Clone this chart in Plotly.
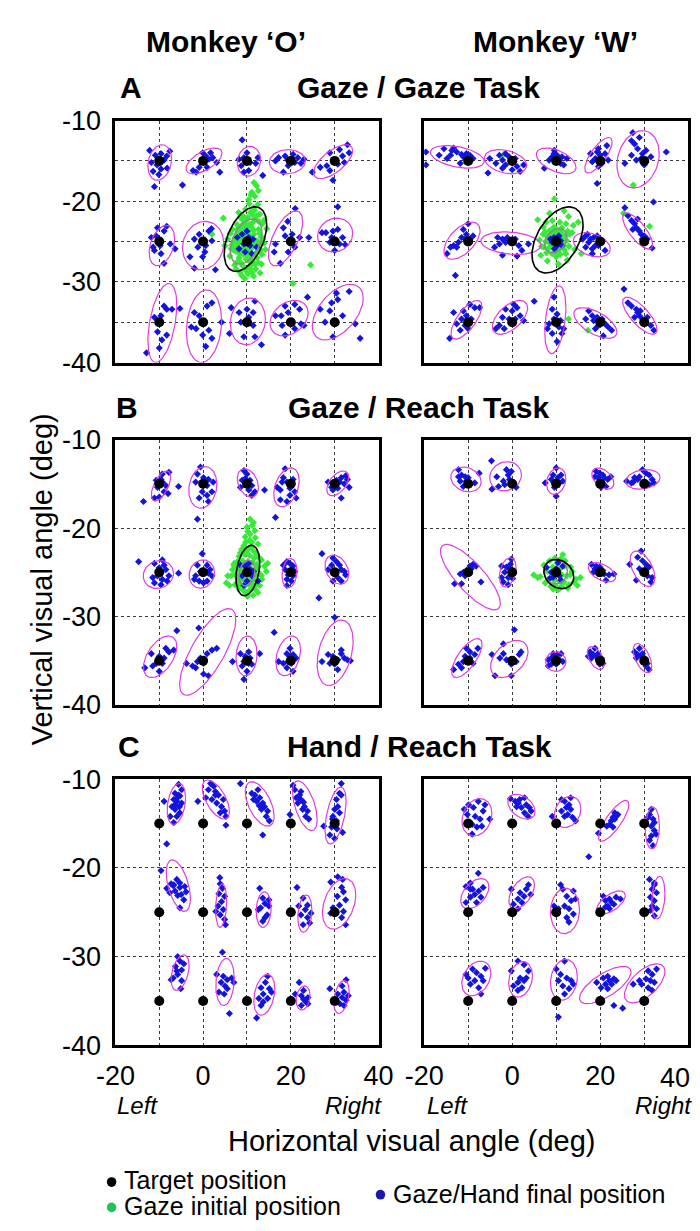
import numpy as np
import plotly.graph_objects as go

W, H = 700, 1231
FONT = "Liberation Sans, Arial, sans-serif"

# ---------------- data ----------------
TARGET_X = [-10, 0, 10, 20, 30]
TARGET_Y = [-15, -25, -35]
CENTER_TARGET = (10, -25)
X_TICKS = [-20, 0, 20, 40]
Y_TICKS = [-10, -20, -30, -40]

# magenta ellipses (cx, cy, sx, sy, tilt) per target, row-major; None = no ellipse
A_O_ELL = [(-9.9, -15.2, 2.7, 2.2, 0.2), (0.2, -15.0, 4.1, 1.6, 0.6), (10.45, -15.05, 2.65, 1.85, 0.1),
           (19.2, -15.1, 4.1, 1.5, 0.05), (29.65, -15.1, 4.45, 2.1, 0.65),
           (-9.4, -25.5, 2.9, 2.5, 0.35), (0.0, -25.5, 4.7, 3.0, 0.1), None,
           (18.8, -24.6, 3.9, 3.4, 0.6), (30.1, -24.2, 4.0, 2.1, 0.1),
           (-9.3, -35.1, 3.3, 4.9, 0.45), (0.2, -35.5, 4.0, 4.5, 0.15), (10.2, -34.9, 4.0, 2.9, 0.1),
           (19.6, -34.5, 4.35, 2.2, 0.3), (30.7, -33.75, 5.8, 3.45, 0.5)]
A_W_ELL = [(-12.46, -14.5, 6.1, 1.4, -0.4), (-1.5, -15.1, 4.8, 1.5, -0.3), (10.0, -15.0, 4.5, 1.6, -0.5),
           (19.6, -14.3, 3.1, 2.2, 0.75), (28.6, -14.8, 4.8, 3.55, 0.2),
           (-11.4, -24.9, 4.1, 2.3, 0.55), (-0.3, -25.2, 6.8, 1.4, -0.2), None,
           (18.1, -25.4, 4.2, 1.5, -0.35), (28.5, -23.7, 3.4, 2.25, -0.75),
           (-10.4, -34.7, 3.5, 2.4, 0.7), (-0.5, -34.4, 4.0, 2.1, 0.55), (9.8, -34.7, 2.4, 4.2, 0.35),
           (18.9, -35.1, 4.9, 1.9, -0.6), (29.0, -34.2, 3.9, 2.3, -0.75)]
B_O_ELL = [(-9.6, -15.24, 2.2, 1.7, 0.6), (-0.07, -15.4, 3.2, 2.35, 0.15), (10.2, -14.9, 2.4, 1.6, -0.3),
           (19.0, -15.4, 2.9, 2.2, 0.35), (30.7, -14.95, 2.5, 1.4, 0.5),
           (-10.2, -25.26, 3.45, 1.57, 0.1), (-0.3, -25.2, 2.9, 1.6, 0.1), None,
           (19.7, -25.1, 1.7, 1.65, 0.15), (30.5, -24.7, 2.7, 1.65, -0.3),
           (-9.8, -34.55, 3.8, 2.35, 0.5), (1.05, -34.0, 6.4, 4.9, 0.75), (9.9, -34.45, 2.4, 2.25, 0.1),
           (19.4, -34.45, 2.8, 2.25, 0.3), (30.1, -34.1, 4.1, 3.7, 0.35)]
B_W_ELL = [(-10.5, -14.5, 3.45, 1.4, -0.2), (-1.5, -14.15, 3.6, 1.65, 0.1), (10.0, -14.7, 2.2, 1.5, 0.2),
           (20.6, -14.4, 2.5, 1.2, -0.45), (29.7, -14.5, 3.9, 1.1, 0.2),
           (-9.5, -25.55, 6.8, 3.7, -0.8), (-1.0, -25.0, 1.9, 1.65, 0.3), None,
           (20.4, -25.0, 3.1, 1.1, -0.5), (29.6, -24.6, 2.8, 2.0, -0.5),
           (-10.3, -34.7, 3.45, 2.2, 0.7), (-0.65, -34.8, 4.25, 2.1, 0.4), (9.9, -35.1, 2.3, 1.1, 0.0),
           (19.0, -34.7, 1.9, 1.3, -0.5), (29.6, -34.7, 2.1, 1.65, -0.55)]
C_O_ELL = [(-6.1, -12.8, 2.1, 2.3, 0.3), (2.9, -12.3, 3.1, 2.2, -0.6), (12.9, -12.8, 3.3, 2.5, -0.55),
           (23.2, -13.0, 2.8, 2.8, -0.55), (30.2, -14.1, 2.4, 3.2, 0.5),
           (-5.65, -22.0, 2.75, 2.9, -0.5), (4.1, -24.25, 1.25, 2.45, 0.2), (13.8, -24.7, 1.7, 2.0, 0.1),
           (23.2, -25.15, 1.6, 2.1, 0.2), (31.0, -24.05, 3.8, 2.85, 0.35),
           (-5.25, -31.8, 2.05, 2.0, 0.4), (5.0, -32.85, 2.1, 2.65, 0.15), (13.95, -34.3, 2.4, 2.3, 0.3),
           (22.8, -34.65, 1.6, 1.35, 0.2), (31.55, -34.55, 1.75, 1.85, 0.35)]
C_W_ELL = [(-8.0, -14.3, 3.4, 2.1, 0.2), (2.1, -13.1, 3.1, 1.4, -0.4), (12.6, -13.7, 3.0, 1.75, 0.2),
           (23.05, -14.7, 3.45, 2.3, 0.8), (31.85, -15.5, 1.6, 2.35, 0.1),
           (-8.5, -22.9, 3.2, 1.7, 0.45), (2.15, -22.8, 2.9, 1.8, 0.5), (12.0, -24.85, 3.3, 2.55, 0.05),
           (22.45, -23.9, 3.25, 1.3, 0.6), (33.2, -23.35, 1.5, 2.4, 0.2),
           (-8.15, -32.45, 3.3, 1.95, 0.3), (1.9, -32.55, 2.7, 2.0, 0.2), (11.75, -32.6, 3.05, 2.3, 0.15),
           (21.15, -33.2, 5.85, 2.1, 0.7), (30.1, -33.0, 4.6, 2.2, 0.6)]

# initial-gaze ellipses (black, grey) around the central fixation target
A_O_INIT_ELL = [(9.65, -24.7, 4.85, 4.0, 0.45), (9.8, -25.0, 3.6, 2.8, 0.4)]
A_W_INIT_ELL = [(10.3, -24.8, 5.8, 4.1, 0.45), (9.9, -24.9, 2.5, 1.5, 0.3)]
B_O_INIT_ELL = [(10.2, -24.8, 2.7, 2.85, 0.3), (10.0, -25.1, 1.8, 1.45, 0.2)]
B_W_INIT_ELL = [(10.6, -25.2, 3.4, 1.65, -0.2), (9.9, -24.9, 2.65, 1.4, 0.0)]

# final positions: offsets (deg) from each target, row-major
A_O_FINAL = [
    [(-2.2, 1.3), (-0.9, 0.7), (0.4, 0.9), (1.7, 0.6), (2.4, 1.2), (1.1, 0.1), (-0.5, -0.5), (0.4, -1.0), (1.8, -0.9), (-1.4, -1.3), (-0.1, -1.7), (-1.1, -3.2), (-1.8, -0.2)],
    [(-1.6, -1.4), (-0.9, -0.8), (0.6, 0.6), (1.3, 0.2), (2.2, 0.4), (3.8, -1.4), (-0.1, 1.0), (0.9, -0.8), (-4.7, -3.0), (3.1, -0.2), (-2.3, -1.2), (1.7, 1.0)],
    [(-1.1, 2.6), (0, 1.0), (-0.7, 0.4), (0.7, -0.2), (2.0, -0.3), (-1.3, -0.6), (0.4, -1.2), (3.6, -1.8), (-0.7, -1.4), (2.5, 0.4), (-1.8, 0.2)],
    [(-2.8, 0.4), (-1.3, 0.6), (0.5, 0.8), (1.6, 0.4), (2.3, -0.3), (-0.6, -0.6), (0.9, -0.2), (-1.7, -1.4), (3.0, 0.2), (-3.5, 0), (-0.7, 0.1)],
    [(-1.1, 1.0), (1.1, 1.4), (2.9, 2.0), (1.8, 0.6), (0.7, -0.4), (-1.8, -0.6), (-3.3, -0.8), (-5.1, -1.4), (2.2, -0.2), (-0.4, -2.4), (3.3, 1.0), (-1.1, -1.2)],
    [(1.7, 1.9), (1.1, 1.3), (-0.7, 0.7), (-1.8, 0.5), (0.2, -0.5), (-1.1, -1.1), (0.4, -1.5), (1.1, -2.7), (2.5, -0.3), (3.6, -0.9), (-1.4, -0.7), (-0.4, 1.7)],
    [(-2.0, 0.3), (-0.9, 0.9), (1.3, 1.3), (1.9, 1.6), (0.6, -0.5), (-1.2, -0.7), (0.4, -1.3), (2.8, -3.5), (-2.0, -3.3), (-3.0, -1.9), (2.0, 0.1), (-0.1, -1.9)],
    [(-1.1, 0.9), (0.4, 0.5), (-0.7, -0.3), (0.7, -0.5), (-1.8, -0.9), (1.4, 0.3), (-0.4, -1.3), (-2.2, 0.5), (2.2, -0.7), (0, 1.3), (1.1, -1.5)],
    [(1.0, 4.1), (-0.7, 2.5), (-1.7, 1.7), (-1.3, 0.7), (0.3, 0.9), (0.9, -0.7), (-3.5, -0.3), (-2.4, -2.7), (-0.6, -1.3), (2.0, 0.5), (4.1, 0.5), (-3.8, -1.3)],
    [(-2.0, 1.1), (-0.4, 1.3), (0.7, 1.5), (1.8, 0.5), (-0.7, 0.5), (1.1, -0.3), (2.4, -0.4), (0, -1.1), (-1.1, -0.1), (0.7, 4.3), (-2.9, 1.1)],
    [(1.1, 2.0), (1.7, 1.6), (0.4, 0.8), (-1.1, 0.6), (2.9, 1.6), (4.7, 1.7), (1.7, -1.6), (0.6, -2.2), (0, -3.2), (-2.9, -3.8), (-0.4, -1.2)],
    [(-2.0, 1.2), (-0.9, 0.8), (2.0, 2.4), (0.9, 2.0), (-1.6, -0.8), (-0.1, -1.6), (2.0, -2.0), (0.6, -3.0), (4.2, 0), (-2.7, -0.6), (1.3, -1.0)],
    [(0, 1.6), (-1.8, 1.2), (1.8, 2.6), (1.4, 1.2), (-1.4, 0), (1.4, -0.4), (-0.7, -1.8), (1.8, -1.8), (3.3, -2.8), (-3.6, 1.8), (-4.0, -1.4), (0.4, 0.6)],
    [(-1.3, 2.0), (0.9, 2.2), (2.0, 1.6), (-0.6, 1.2), (-2.2, 0.8), (-3.5, 0.8), (-2.0, -0.4), (2.3, -0.2), (3.0, -0.4), (-1.3, -1.6), (0.9, -0.8), (3.8, 3.1)],
    [(-3.3, 1.6), (-1.1, 1.4), (-0.7, 2.4), (0.4, 3.6), (0.7, 2.8), (3.3, 3.8), (1.8, 0.8), (4.7, -0.2), (-0.4, -1.8), (5.8, -2.0), (-2.2, 0)],
]
A_W_FINAL = [
    [(-5.5, 1.5), (-3.3, 1.6), (-4.0, 0.7), (-2.6, 1.1), (-1.1, 0.5), (0.4, 0.7), (1.1, 0.3), (-4.8, 0.3), (-1.8, -0.3), (-6.6, 0.7), (-9.6, 1.1), (-9.6, -0.5), (-0.4, 0.9), (-3.7, 1.3), (-1.5, 0.8)],
    [(-2.9, 0.7), (-2.2, 0.1), (-3.7, -0.3), (-1.5, -0.5), (-0.7, 0.5), (0.7, 0.3), (1.1, -0.7), (1.8, -1.3), (2.6, -0.5), (-5.1, 0.3), (-5.5, -1.5), (-1.5, 0.9), (-2.2, -0.9), (0, -1.1)],
    [(-0.5, 0.9), (-0.9, 0.5), (0.2, 0.7), (0.6, 0.1), (-1.6, 0.1), (1.0, -0.3), (1.7, -0.5), (-2.7, -0.9), (2.4, 0.3), (-0.4, 1.3), (1.3, 0.5)],
    [(-0.7, 1.1), (0, 0.7), (-1.1, 0.3), (0.4, -0.3), (1.1, 0.9), (-1.8, -0.1), (-2.2, 0.9), (-0.4, -0.7), (1.5, 1.9), (-0.7, -2.8), (1.8, 0.1), (-0.4, 1.5)],
    [(-2.9, 2.5), (-2.2, 2.1), (-1.5, 1.5), (-0.4, 0.9), (0.4, 1.3), (-0.7, 0.3), (0, -0.5), (-2.9, 0.7), (-4.4, -0.3), (5.0, 1.1), (-1.1, 2.9), (-2.6, 3.5), (1.5, 0.5), (-1.8, 0.1)],
    [(-1.1, 1.5), (-0.4, 0.9), (-1.5, 0.5), (-0.7, 0.3), (-2.2, -0.1), (-3.3, -0.5), (-2.6, -0.7), (-4.8, -1.5), (0.4, 0.3), (1.1, 0.7), (0, 2.2), (-2.9, -4.2), (-4.0, -0.7)],
    [(-2.2, 0.3), (-1.5, -0.1), (-0.7, 0.1), (-2.9, -0.3), (-4.0, -0.7), (0.7, 0.3), (1.5, -0.5), (2.2, -1.1), (-2.2, -1.7), (1.1, -1.8), (3.7, -0.3), (-1.1, 0.5), (-3.3, 0.5)],
    [(0, 0.3), (-0.9, -0.1), (1.0, 0.1), (0.2, -0.5), (-0.5, 0.5), (0.6, 0.7), (-1.3, 0.3), (1.3, -0.5), (-0.4, -0.9)],
    [(-3.3, 0.7), (-2.2, 0.3), (-1.5, 0.5), (-2.6, -0.1), (-1.1, -0.5), (-1.8, -0.9), (-3.3, -0.7), (-4.0, 0.3), (-0.4, -0.5), (1.1, -1.1), (-1.8, -1.5), (-0.7, 0.7), (-2.9, 0.9)],
    [(-4.4, 4.2), (-3.7, 3.2), (-2.9, 2.6), (-2.2, 2.2), (-1.8, 1.7), (-2.6, 1.5), (-1.1, 1.3), (-0.7, 0.9), (0, 0.7), (0.7, 0.3), (-0.4, 0.3), (1.8, -0.8), (-1.5, 2.8), (2.1, 4.9)],
    [(-1.1, 1.4), (0.4, 2.2), (1.5, 1.8), (-0.4, 0.8), (-1.5, 0.4), (0.7, 0.4), (-0.7, -0.4), (-1.8, -1.0), (-3.3, 1.2), (-2.6, -0.2), (-4.2, -2.0), (2.6, 1.8), (0, -0.8)],
    [(-1.5, 1.6), (0, 1.4), (1.1, 1.8), (-2.2, 0.6), (-0.7, 0.4), (0.7, 0.4), (-2.9, -0.4), (-1.8, -0.8), (1.8, 0.8), (-3.7, -0.8), (5.0, 2.6), (0.4, 2.2), (2.6, 0.2)],
    [(-0.9, 1.6), (0.2, 1.0), (-0.5, 0.4), (1.0, 0.2), (-1.6, -0.2), (0.6, -0.6), (1.7, -0.8), (-0.9, -1.4), (0.2, -2.4), (-2.0, -0.8), (-0.5, 3.1), (1.3, -1.4)],
    [(-2.6, 1.4), (-1.8, 0.8), (-0.7, 0.6), (0.4, 0.4), (1.1, -0.2), (-0.4, -0.4), (1.8, -0.6), (2.6, -1.0), (0.7, -1.7), (-1.5, 0.2), (-3.3, 0.4), (-1.1, -0.8)],
    [(-4.6, 4.1), (-3.7, 2.4), (-2.9, 2.0), (-1.8, 1.6), (-1.5, 1.2), (-1.1, 0.8), (-0.4, 0.4), (0.4, 0), (1.5, -0.4), (2.2, -1.0), (-2.2, 0.6), (0.7, 0.6), (-0.9, 1.4)],
]
B_O_FINAL = [
    [(-0.7, 0.4), (0.4, 0.5), (0.7, 0.2), (-0.4, -0.4), (1.5, -0.2), (0.7, 1.1), (2.2, 1.3), (1.1, -0.9), (0, -1.5), (-1.1, -1.6), (4.4, -0.3), (-3.6, -2.0), (2.0, -1.1)],
    [(-0.6, 1.9), (-1.3, 1.1), (0.1, 0.7), (1.2, 0.5), (-1.7, 0.2), (0.9, -0.2), (2.3, 0.2), (-0.2, -0.9), (-0.9, -1.6), (0.9, -1.3), (1.2, -2.0), (-1.3, -4.0), (2.0, -0.9)],
    [(-0.7, 1.5), (0, 1.1), (0.7, 0.4), (-1.1, 0.4), (1.1, -0.2), (1.8, -0.9), (0.4, -0.7), (1.1, -1.3), (4.0, -0.7), (-1.5, -0.4), (-0.4, 0.6)],
    [(-1.3, 1.7), (-1.7, 0.7), (-3.1, -0.4), (-2.4, -0.7), (-0.9, 0.2), (-0.2, -0.5), (0.5, 0.5), (-0.2, -1.3), (-2.4, -1.8), (-0.9, -2.0), (1.2, -1.6), (-3.5, -3.8), (-2.0, 0.2), (0.9, -0.9)],
    [(-1.5, 0.2), (-0.7, -0.4), (0.4, 0.4), (1.5, 0.7), (2.5, 0.9), (2.9, 0.5), (2.2, 0), (0.7, -0.5), (1.5, -1.6), (3.3, -0.4), (-0.4, -0.7), (1.1, 0.2)],
    [(-1.1, 1.0), (0, 0.5), (1.1, 0.8), (1.5, 0.3), (-0.4, -0.4), (-1.5, -0.6), (0.7, -0.8), (1.8, -1.0), (0.4, -1.4), (-1.1, -1.2), (4.4, -0.1), (-4.7, 1.2), (0.7, 1.4), (2.2, -0.4)],
    [(-0.2, 2.1), (-1.3, 0.8), (0.9, 0.8), (1.6, 0.3), (-0.6, 0.1), (-1.7, -0.4), (-0.9, -1.0), (0.9, -1.0), (2.0, -0.4), (0.1, -1.2), (-2.0, -0.8), (1.2, -0.1)],
    [(-1.5, 0.8), (-0.4, 0.7), (0.7, 0.3), (1.1, -0.4), (0, -1.0), (-1.1, -0.4), (0.4, 1.0), (1.5, 0.1), (-0.7, -1.5), (2.5, -1.0)],
    [(-0.9, 1.2), (-0.2, 1.0), (0.5, 0.7), (-1.3, 0.3), (-0.6, -0.3), (0.5, -0.4), (-0.9, -0.8), (0.1, -1.0), (0.9, 0.1), (-0.9, -1.5), (-1.7, 0.8)],
    [(-0.4, 1.6), (0.4, 1.2), (1.1, 0.8), (-0.7, 0.8), (1.5, 0.3), (2.2, 0.1), (2.5, -0.3), (0.7, -0.6), (-0.4, -1.0), (-1.5, 0.3), (-2.9, 2.1), (-3.6, -2.9), (1.5, -1.0)],
    [(-1.8, 0.8), (0, 0.5), (1.1, 0.3), (2.2, 1.0), (3.3, 1.2), (-0.7, -0.3), (0.7, -0.3), (-3.3, -0.8), (-1.5, -0.6), (0, -1.2), (-0.4, -0.1), (1.5, 1.4), (4.0, 3.4)],
    [(-1.3, -0.1), (-0.6, 0.1), (0.1, -0.3), (0.9, 0.8), (2.0, 1.2), (-2.4, -0.6), (-1.7, -0.8), (0.1, -1.5), (1.2, -1.7), (-0.6, 0.3), (3.1, 1.4), (-1.0, 3.7), (-3.8, -0.3)],
    [(-1.5, 0.8), (-0.4, 0.5), (0.7, 0.3), (-0.7, -0.1), (0.4, -0.3), (1.1, -0.4), (-1.1, -0.6), (0, -1.2), (-0.7, -2.1), (2.9, 0.8), (-3.3, -0.1), (0.4, 1.0), (6.2, 3.2)],
    [(-0.9, 0.8), (-0.2, 0.5), (0.5, 0.7), (-0.6, -0.1), (0.1, -0.3), (-1.7, -0.3), (-0.9, -0.8), (0.5, -1.2), (-2.8, -0.1), (-0.2, 1.4), (1.2, 0.3)],
    [(-1.5, 0.7), (-0.4, 0.5), (0.7, 0.1), (1.5, 0.8), (2.2, 0.3), (2.9, 0.1), (3.6, 0), (-1.1, -0.3), (0, -0.4), (0.7, -1.0), (1.5, 1.2), (0, 4.9), (-2.9, -0.1)],
]
B_W_FINAL = [
    [(-2.2, 1.6), (-1.5, 1.0), (-0.7, 0.8), (0, 0.7), (-1.8, 0.3), (0.4, -0.1), (1.5, 0.1), (2.5, 1.2), (-1.1, -0.3), (5.3, 2.6), (-2.2, 0.8), (-0.4, 0.3)],
    [(-3.5, 0.8), (-1.3, 1.6), (-0.9, 1.0), (-0.2, 1.4), (-2.0, 0.3), (-3.1, -0.3), (-0.6, 0.5), (0.5, -0.1), (0.9, -0.4), (-4.6, -0.6), (-1.7, -0.1)],
    [(0, 1.8), (-0.7, 1.0), (0.4, 0.7), (1.1, 1.0), (-1.1, 0.5), (0.7, 0.1), (1.5, 0.3), (-2.5, 0.1), (-0.4, -0.4), (0, -1.4), (-0.6, 0.2)],
    [(-0.9, 1.4), (-0.1, 1.2), (0.6, 1.0), (-0.5, 0.7), (0.9, 0.7), (1.7, 0.5), (2.4, 0.8), (0.6, 0.1), (1.3, -0.3), (0.2, -0.4), (-1.2, 0.8)],
    [(-4.0, 0.3), (-2.9, 0.1), (-2.2, 0.7), (-1.1, 0.8), (-0.4, 1.6), (0.4, 1.2), (1.1, 1.0), (1.8, 0.5), (2.2, 0.1), (1.1, -0.1), (-1.5, 0.5), (-2.5, 0.2)],
    [(-1.8, -0.2), (-1.1, 0), (-0.4, 0.2), (0.4, 0.7), (1.1, 0.9), (-0.7, -0.4), (1.8, 0.7), (-1.5, -1.3), (-3.1, -1.3), (2.9, -1.1), (0.7, 0.4)],
    [(-2.4, 0.7), (-1.3, 0.6), (-0.6, 0.4), (-0.2, 1.5), (-1.7, 0), (-0.9, -0.6), (-2.0, -1.1), (-0.9, -1.4), (0.1, -0.7), (-2.4, -0.6), (-0.4, 0.9)],
    [(-2.2, 0.55), (-1.1, 0), (0, 0.4), (0.7, -0.4), (-0.7, -0.55), (1.5, 0.7), (0.4, 1.1), (-1.5, -0.7), (1.1, -0.9)],
    [(-2.0, 0.9), (-0.9, 0.7), (-0.1, 0.6), (0.6, 0.2), (-1.2, 0.4), (0.9, -0.2), (2.0, -0.3), (3.1, -0.2), (1.3, -0.9), (-0.5, -0.2), (-1.6, 0)],
    [(-0.7, 2.4), (-1.5, 1.7), (-0.4, 1.3), (0.4, 0.9), (1.1, 0.6), (-1.1, 0.4), (0, -0.2), (0.7, -0.4), (1.5, -1.1), (-1.8, -0.9), (-3.3, 0.9), (1.8, -0.6)],
    [(-3.3, -1.0), (-2.2, -0.4), (-1.1, -0.1), (-0.7, 0.5), (0.4, 0.3), (1.1, -0.3), (-1.5, -0.8), (0.4, 1.0), (1.5, 0.7), (2.2, 1.4), (-0.4, 1.4)],
    [(-4.6, 0.7), (-2.8, 0.3), (-2.0, 0.8), (-1.3, 0.1), (-0.2, -0.4), (0.9, -0.1), (1.6, 0.7), (2.0, 1.0), (-3.9, -1.7), (-0.2, -1.7), (0.5, 3.5), (-2.0, 1.9)],
    [(-1.8, 0.1), (-1.1, 0.3), (-0.4, 0.5), (0.4, 0.7), (0.7, 0.1), (1.5, -0.1), (0, -0.4), (-1.1, -0.4), (-1.8, -0.6), (1.1, 0.8), (-0.7, 0.8)],
    [(-2.3, 1.0), (-1.6, 0.7), (-0.9, 0.5), (-0.5, 0.1), (0.2, 0.3), (-1.2, 1.4), (-2.0, 0.3), (0.6, -0.3), (-0.1, -0.4), (-0.5, 0.8), (-2.7, 0.5)],
    [(-2.2, 1.0), (-1.5, 0.7), (-0.7, 0.5), (-0.4, 0.8), (0, 0.3), (0.7, -0.3), (0.4, -0.6), (1.1, -1.0), (-1.1, 1.4), (-1.8, 0.3)],
]
C_O_FINAL = [
    [(4.4, 4.4), (3.6, 3.4), (4.4, 3.2), (4.7, 3.1), (3.3, 2.7), (4.0, 2.5), (5.1, 2.3), (2.9, 1.9), (3.6, 1.6), (4.7, 1.2), (4.0, 0.8), (3.3, 0.1), (1.1, 2.5), (1.7, -2.3), (2.5, 0.8), (5.1, 3.8), (3.6, 2.1), (4.6, 1.9), (4.1, 2.9)],
    [(1.7, 4.5), (2.4, 4.2), (2.8, 3.6), (3.5, 3.2), (0.6, 2.9), (2.0, 2.7), (3.1, 2.3), (4.2, 1.9), (4.9, 1.4), (5.2, 0.8), (3.9, 1.2), (-1.2, 2.5), (5.2, -0.2), (2.8, 3.2), (1.2, 3.8), (4.6, 2.7)],
    [(-1.5, 4.5), (2.5, 3.8), (1.8, 3.2), (2.9, 2.9), (2.2, 2.5), (3.6, 2.3), (4.0, 1.9), (3.3, 1.6), (4.7, 1.4), (4.4, 0.8), (5.1, 0.3), (3.6, -1.3), (1.5, 2.7), (2.8, 2.0), (1.1, 3.4)],
    [(0.5, 4.3), (0.9, 3.8), (2.0, 3.2), (2.3, 2.7), (1.6, 2.3), (3.1, 1.9), (2.7, 1.6), (3.8, 1.4), (3.4, 0.8), (4.1, 0.5), (-0.2, 1.0), (1.2, 2.9), (2.3, 3.6), (2.9, 2.4)],
    [(1.5, 4.5), (1.1, 3.4), (0.4, 2.7), (0.7, 1.9), (0, 1.6), (1.1, 1.2), (-0.4, 0.8), (0.4, 0.3), (-0.7, -0.4), (-1.1, -1.3), (1.8, -1.0), (-2.5, -0.3), (1.5, 3.2), (-0.5, 0.5), (0.5, -0.6), (0, -1.7)],
    [(1.7, 2.7), (3.2, 3.0), (4.7, 2.8), (6.1, 2.3), (5.6, 1.4), (4.2, 1.9), (4.7, 0.5), (2.7, 3.2), (4.0, 3.7), (4.7, 3.3), (3.3, 3.1), (5.8, 2.9), (0.4, 4.7), (3.6, 2.4), (5.0, 2.0), (2.4, 2.2)],
    [(3.9, 3.2), (4.4, 2.7), (3.6, 2.1), (4.9, 1.8), (4.2, 1.2), (3.4, 0.7), (4.6, 0.3), (3.9, -0.3), (4.9, -0.8), (5.1, -1.4), (2.9, 0.1), (3.8, 3.9)],
    [(2.9, 2.7), (3.6, 1.6), (4.1, 1.0), (5.0, 0.7), (3.1, 0.5), (4.6, -0.3), (3.6, -1.0), (2.6, 0.3), (5.0, 1.4), (4.1, -0.6)],
    [(1.4, 2.8), (2.8, 1.6), (3.8, 0.8), (3.3, 0.3), (2.3, -0.3), (3.8, -0.6), (4.3, -1.2), (2.8, -1.4), (4.6, -0.1), (1.8, 0.7)],
    [(-0.9, 3.4), (1.6, 2.8), (2.0, 2.3), (0.6, 1.8), (2.5, 1.4), (1.1, 0.8), (-0.4, 0.5), (2.0, 0.1), (-0.9, -0.1), (1.6, -0.6), (2.5, -1.4), (0.1, -0.1), (0.7, 4.0), (1.8, 3.7)],
    [(4.2, 5.0), (4.7, 4.5), (3.7, 3.9), (5.1, 3.5), (4.2, 3.0), (3.2, 2.6), (5.1, 2.3), (2.7, 2.4), (4.9, 1.4), (5.6, 4.2), (4.0, 3.4)],
    [(4.4, 5.5), (3.1, 3.0), (4.6, 2.8), (5.5, 2.4), (6.5, 2.6), (4.1, 2.1), (5.0, 1.7), (3.6, 1.0), (5.5, 1.4), (7.0, 2.1), (6.0, -1.4), (4.8, 0.8)],
    [(4.7, 2.8), (4.2, 2.1), (3.2, 1.5), (5.1, 1.4), (3.7, 0.8), (2.7, 0.3), (4.7, 0.3), (3.2, -0.5), (2.2, -1.9), (5.6, 1.0), (3.7, -0.1)],
    [(1.9, 2.1), (2.9, 1.2), (2.4, 0.6), (3.9, 0.4), (3.4, -0.1), (2.4, -0.5), (1.0, 0.8), (3.9, -0.3), (2.9, 0.2)],
    [(2.6, 2.4), (1.7, 1.7), (2.1, 1.0), (0.7, 0.8), (1.7, 0.4), (2.6, 0.1), (1.2, -0.3), (2.1, -0.5), (-1.1, 1.4), (3.1, 0.6), (0.5, -0.1)],
]
C_W_FINAL = [
    [(-0.9, 1.6), (0.1, 2.1), (1.2, 1.8), (2.3, 2.5), (3.4, 1.4), (1.6, 0.8), (2.7, 0.5), (0.9, -0.1), (3.1, -0.3), (2.0, -0.4), (0.9, -1.2), (4.9, 0.5), (-0.2, 1.0), (3.8, 2.1)],
    [(-0.4, 2.8), (0.7, 2.5), (1.7, 2.7), (2.8, 2.9), (1.0, 1.9), (2.1, 1.8), (3.2, 2.1), (3.9, 1.8), (2.8, 1.2), (3.6, 0.8), (4.3, 1.4), (1.4, 2.3)],
    [(1.2, 2.7), (1.9, 2.5), (2.9, 2.1), (2.3, 1.8), (3.3, 1.6), (1.2, 1.4), (2.6, 1.0), (3.7, 0.7), (4.4, 0.3), (-0.9, 0.8), (1.9, 0.8), (3.3, 2.9)],
    [(3.3, 1.2), (3.6, 0.8), (2.9, 0.7), (2.5, 0.3), (2.2, -0.1), (3.3, 0.5), (4.0, 1.0), (1.5, -0.3), (-0.4, -1.1), (2.9, -0.4), (-2.6, -3.75)],
    [(1.6, 1.6), (1.2, 1.0), (2.0, 0.5), (2.3, 0.1), (1.6, -0.3), (2.3, -0.8), (1.6, -1.4), (1.2, -1.9), (2.0, -2.5), (2.7, -1.2), (0.9, 0.7)],
    [(-0.5, 2.9), (1.0, 2.6), (1.5, 2.0), (2.4, 2.4), (2.9, 1.7), (0.5, 1.7), (3.4, 2.8), (1.9, 1.1), (-0.5, 1.1), (0.5, 3.3), (2.3, 4.4), (0.5, 2.6)],
    [(-0.2, 2.6), (1.8, 2.2), (2.7, 1.8), (1.3, 1.5), (3.2, 2.6), (3.7, 3.1), (0.3, 0.9), (2.2, 1.1), (4.2, 2.0), (1.3, 0.4)],
    [(1.0, 3.1), (1.5, 2.6), (2.4, 1.8), (3.9, 2.4), (3.4, 1.3), (1.9, 0.7), (2.9, 0.4), (3.9, -0.2), (2.4, -0.6), (2.9, -1.1), (-0.5, 0.7), (0.5, 0.4), (4.4, 1.5)],
    [(1.2, 1.3), (2.1, 1.5), (2.6, 1.1), (1.7, 0.7), (3.6, 1.7), (0.7, 1.8), (3.1, 0.9), (4.6, 1.5), (2.1, 0.4), (1.2, 0.6)],
    [(2.3, 3.3), (1.8, 2.6), (2.8, 2.2), (1.4, 1.7), (2.3, 1.3), (1.8, 0.7), (2.8, 0.4), (2.3, -0.4), (1.4, 0.2), (1.2, 3.7), (2.3, 3.1)],
    [(1.0, 3.6), (1.9, 3.2), (2.9, 2.8), (0, 2.6), (1.5, 2.3), (3.4, 2.3), (0.5, 1.9), (2.4, 1.5), (3.9, 3.7), (2.9, 0.8), (-0.5, 3.0)],
    [(1.3, 4.5), (2.7, 4.1), (-0.2, 3.4), (1.8, 2.6), (2.7, 2.3), (1.3, 2.1), (3.7, 3.4), (0.3, 1.7), (2.2, 1.5), (3.2, 2.6), (1.3, 1.2)],
    [(1.9, 4.5), (0, 3.6), (1.0, 3.0), (2.4, 2.6), (3.4, 2.3), (1.5, 1.7), (2.9, 1.4), (0.5, 2.3), (3.9, 1.9), (1.9, 0.8), (0.5, -1.8)],
    [(0.7, 2.6), (1.7, 2.8), (2.1, 2.3), (3.1, 2.5), (1.2, 1.9), (2.6, 1.9), (0.2, 1.5), (1.7, 1.4), (3.6, 2.3), (3.1, -0.5), (5.1, -0.8), (-0.8, 2.1)],
    [(0.9, 3.4), (1.8, 3.0), (0.4, 2.5), (1.4, 2.3), (2.3, 2.1), (-0.6, 1.9), (0.9, 1.5), (-1.1, 2.3), (2.8, 3.6), (1.8, 1.2), (-2.5, 1.9)],
]

# initial gaze positions: offsets (deg) from the central fixation target
A_O_INITIAL = [(1.6, 7.3), (2.2, 6.9), (1.1, 6.1), (1.8, 5.6), (0.4, 5.2), (2.5, 4.6), (1.5, 4.2), (-0.3, 4.0), (0.8, 3.6), (2.9, 3.4),
               (-1.5, 3.0), (0.2, 3.0), (1.9, 2.8), (3.5, 2.2), (-2.3, 2.1), (-0.8, 2.2), (1.0, 1.8), (2.6, 1.5), (-3.8, 1.0), (-1.6, 1.2),
               (0.3, 1.2), (1.6, 0.9), (3.2, 0.6), (4.5, 1.6), (-2.7, 0.4), (-0.9, 0.5), (0.9, 0.3), (2.3, 0.1), (3.9, -0.2), (-5.0, -0.5),
               (-3.4, -0.4), (-1.9, -0.2), (-0.5, -0.3), (1.3, -0.6), (2.8, -0.8), (-2.6, -1.2), (-1.1, -1.0), (0.4, -1.3), (1.9, -1.5), (3.4, -1.6),
               (-3.9, -1.8), (-1.8, -2.0), (-0.2, -2.2), (1.2, -2.4), (2.6, -2.6), (-2.8, -2.9), (-1.0, -3.0), (0.6, -3.3), (2.0, -3.4), (-1.6, -3.8),
               (0.2, -4.0), (1.5, -4.3), (-0.5, -4.6), (3.0, -3.9), (14.5, -2.9), (10.5, -5.2), (-8.0, 0.9), (-5.4, 2.9),
               (-0.6, 1.6), (0.6, 0.7), (-1.3, 0.0), (0.0, -0.8), (1.0, -1.8), (-0.8, -1.6), (2.1, -0.3), (-2.2, 0.9), (1.4, 2.4), (-0.2, 2.6),
               (2.3, -2.0), (-2.0, -2.4), (0.9, -2.9), (-0.4, -3.5), (3.6, 0.3), (-3.1, -1.0), (1.7, 3.9), (0.5, 4.7), (-1.2, -4.2), (2.7, 2.5),
               (-4.4, 0.3), (4.2, -1.0), (3.3, -2.8), (0.9, 5.8), (2.6, 6.3), (-1.9, 3.6), (4.0, 2.7), (-2.5, -3.4), (1.1, -3.8), (0.1, 1.9),
               (-0.3, 0.4), (0.5, -0.2), (-1.6, 0.6), (1.2, 0.4), (-0.7, -0.6), (0.8, -1.0), (-2.3, -0.6), (2.4, -1.2), (-1.4, 1.8), (0.6, 2.1),
               (-0.1, -1.5), (1.6, -0.1), (-2.9, 0.0), (2.9, 1.0), (-1.7, -1.5), (1.5, 1.4), (-0.8, 3.1), (0.7, -2.5), (-1.4, -2.6), (3.1, -1.1),
               (-3.3, 1.5), (2.2, 3.2), (-0.4, 0.9), (1.9, -2.8), (-2.2, 1.5), (0.3, -1.8), (-1.0, 2.7), (2.9, -0.3), (-3.6, -0.9), (1.3, 3.3)]
A_W_INITIAL = [(0.0, 0.0), (-0.8, 0.4), (0.7, 0.5), (-1.5, -0.2), (1.4, -0.3), (-0.4, -0.9), (0.5, -1.0), (-1.2, 1.0), (1.1, 1.1), (0.1, 1.5),
               (-2.0, 0.6), (2.0, 0.7), (-1.8, -0.9), (1.8, -1.0), (-0.9, -1.5), (0.9, -1.6), (-2.4, 0.0), (2.4, 0.1), (0.2, -0.4), (-0.3, 0.8),
               (0.4, 0.2), (-0.6, -0.3), (1.0, -0.6), (-1.0, 0.1), (1.6, 0.2), (-0.2, 1.1), (0.8, 1.4), (-1.4, 1.4), (-2.2, -1.4), (2.2, -1.5),
               (0.0, -1.9), (-0.5, 1.8), (1.3, 1.7), (-3.0, 0.9), (3.0, 0.9), (-2.8, -0.7), (2.9, -0.6),
               (-0.4, 5.3), (-4.2, 2.7), (2.8, 3.1), (5.0, 2.4), (5.7, -1.5), (-3.5, -1.7), (-1.5, 3.5), (1.8, 3.8), (-2.9, 1.8), (3.6, 1.1),
               (-3.3, -0.6), (4.2, -1.0), (2.5, -2.3), (-2.0, -2.4), (0.5, -2.8), (-3.8, 0.2), (3.9, 2.0), (-0.9, 2.6), (0.8, 2.4), (2.2, 2.2), (-2.3, 2.4),
               (15.3, 3.5), (21.2, 1.9), (17.5, 7.0), (-11.9, 10.8), (7.2, -11.0), (2.8, -9.6),
               (-1.1, -0.5), (1.2, 0.8), (-0.2, -1.2), (0.3, 0.6), (-1.7, 0.3), (1.7, -0.5), (-0.6, 1.3), (0.6, -1.4), (-2.5, 1.2), (2.6, 1.3)]
B_O_INITIAL = [(0.7, 6.0), (1.5, 5.6), (0, 5.1), (1.8, 4.7), (0.7, 4.3), (-0.4, 4.0), (1.1, 3.4), (2.5, 3.2), (-0.7, 3.0), (0.4, 2.7),
               (-4.7, -1.2), (-4.0, -1.5), (-3.6, -0.4), (-3.3, 0.3), (-2.9, 1.0), (4.0, 0.7), (4.7, 1.0), (3.3, -0.4), (4.4, 0.1), (2.9, -1.5),
               (2.5, -2.3), (-1.8, -1.9), (-0.4, -2.3), (1.1, -1.9), (-4.4, -0.4), (-1.8, 1.8), (2.2, 2.1), (3.3, 1.4),
               (-1.5, 2.2), (-0.5, 2.0), (0.6, 1.9), (1.6, 1.6), (-2.2, 1.2), (-1.0, 1.3), (0.2, 1.2), (1.3, 1.1), (2.3, 0.9), (-2.4, 0.5),
               (-1.2, 0.6), (-0.1, 0.5), (1.0, 0.4), (2.1, 0.3), (-2.6, -0.2), (-1.4, -0.1), (-0.3, -0.2), (0.8, -0.3), (1.9, -0.4), (3.0, -0.2),
               (-2.0, -0.8), (-0.9, -0.8), (0.3, -0.9), (1.4, -0.9), (-1.5, -1.4), (-0.4, -1.5), (0.8, -1.5), (2.0, -1.4), (-0.9, -2.0), (0.4, -2.1),
               (1.4, -2.6), (-2.7, -1.4), (3.4, -0.8), (-3.0, 0.8), (2.8, 1.6), (1.2, 5.3), (0.2, 4.6), (1.5, 2.4), (-0.3, 3.4), (1.9, 3.9),
               (-0.7, 1.0), (0.5, 0.9), (-1.7, 0.2), (1.6, -0.1), (-0.4, -0.6), (0.9, -1.2), (-1.9, -1.1), (2.5, 0.6), (-0.2, 2.3), (1.1, 2.9),
               (0.6, 3.6), (-1.2, 2.6), (2.0, -2.0), (-2.3, -0.5), (0.1, -2.7)]
B_W_INITIAL = [(-5.1, -0.3), (5.5, -0.6), (1.5, 2.0), (4.0, -1.1), (-0.7, -1.9), (2.6, -1.8), (3.3, 0.6), (-2.8, 0.8), (-3.6, -0.5), (1.0, 1.5),
               (-1.5, 1.3), (0.3, 1.0), (-0.8, 0.6), (0.9, 0.4), (1.9, 0.7), (-2.0, 0.1), (-1.0, -0.2), (0.2, -0.1), (1.3, -0.3), (2.4, -0.4),
               (-1.8, -0.8), (-0.5, -0.9), (0.7, -1.0), (1.8, -1.1), (3.2, -0.3), (-2.5, -1.2), (-0.2, -1.5), (1.2, -1.6), (2.9, -1.4), (4.5, -0.8),
               (3.6, 0.1), (-1.2, -1.6), (0.4, -2.0), (2.0, 1.3), (-0.3, 1.6), (4.8, -1.5), (-4.2, -0.6)]

LEGEND_LABELS = ["Target position", "Gaze initial position", "Gaze/Hand final position"]

# ---------------- styling / layout ----------------
BLUE = "#1414dc"
GREEN = "#36ea36"
MAGENTA = "#e03ce0"
GRID = "#3a3a3a"

X_DOM = [(92 / W, 369 / W), (417 / W, 695 / W)]
Y_PIX = [(100, 348), (427, 699), (775, 1048)]
Y_DOM = [(1 - b / H, 1 - t / H) for t, b in Y_PIX]

PANELS = [
    (0, 0, A_O_ELL, A_O_FINAL, A_O_INITIAL, A_O_INIT_ELL),
    (0, 1, A_W_ELL, A_W_FINAL, A_W_INITIAL, A_W_INIT_ELL),
    (1, 0, B_O_ELL, B_O_FINAL, B_O_INITIAL, B_O_INIT_ELL),
    (1, 1, B_W_ELL, B_W_FINAL, B_W_INITIAL, B_W_INIT_ELL),
    (2, 0, C_O_ELL, C_O_FINAL, None, None),
    (2, 1, C_W_ELL, C_W_FINAL, None, None),
]


def ellipse_xy(cx, cy, sx, sy, rho, n=90):
    t = np.linspace(0, 2 * np.pi, n)
    x = cx + sx * np.cos(t)
    y = cy + sy * (rho * np.cos(t) + np.sqrt(1 - rho ** 2) * np.sin(t))
    return list(x), list(y)


def many_ellipses(params):
    xs, ys = [], []
    for p in params:
        if p is None:
            continue
        x, y = ellipse_xy(*p)
        xs += x + [None]
        ys += y + [None]
    return xs, ys


fig = go.Figure()
layout_axes = {}

for i, (row, col, ell, final, initial, init_ell) in enumerate(PANELS):
    k = i + 1
    xa = "x" if k == 1 else f"x{k}"
    ya = "y" if k == 1 else f"y{k}"

    if initial is not None:
        fig.add_trace(go.Scatter(
            x=[CENTER_TARGET[0] + d[0] for d in initial], y=[CENTER_TARGET[1] + d[1] for d in initial],
            mode="markers", marker=dict(symbol="diamond", size=5.5, color=GREEN, line=dict(width=0)),
            xaxis=xa, yaxis=ya, showlegend=False, hoverinfo="skip"))

    fx, fy = [], []
    for j, offs in enumerate(final):
        tx = TARGET_X[j % 5]
        ty = TARGET_Y[j // 5]
        fx += [tx + d[0] for d in offs]
        fy += [ty + d[1] for d in offs]
    fig.add_trace(go.Scatter(x=fx, y=fy, mode="markers",
                             marker=dict(symbol="diamond", size=5.5, color=BLUE, line=dict(width=0)),
                             xaxis=xa, yaxis=ya, showlegend=False, hoverinfo="skip"))

    ex, ey = many_ellipses(ell)
    fig.add_trace(go.Scatter(x=ex, y=ey, mode="lines", line=dict(color=MAGENTA, width=1.2),
                             xaxis=xa, yaxis=ya, showlegend=False, hoverinfo="skip"))

    if init_ell is not None:
        bx, by = ellipse_xy(*init_ell[0])
        gx, gy = ellipse_xy(*init_ell[1])
        fig.add_trace(go.Scatter(x=gx, y=gy, mode="lines", line=dict(color="#8a8a8a", width=1.5),
                                 xaxis=xa, yaxis=ya, showlegend=False, hoverinfo="skip"))
        fig.add_trace(go.Scatter(x=bx, y=by, mode="lines", line=dict(color="black", width=1.6),
                                 xaxis=xa, yaxis=ya, showlegend=False, hoverinfo="skip"))

    tx_all = [x for _ in TARGET_Y for x in TARGET_X]
    ty_all = [y for y in TARGET_Y for _ in TARGET_X]
    fig.add_trace(go.Scatter(x=tx_all, y=ty_all, mode="markers",
                             marker=dict(symbol="circle", size=10, color="black", line=dict(width=0)),
                             xaxis=xa, yaxis=ya, showlegend=False, hoverinfo="skip"))

    # axes
    if row == 0:
        yvals = [-40, -35, -30, -25, -20, -15, -10]
        ytext = [str(v) if v in Y_TICKS else "" for v in yvals]
    else:
        yvals = Y_TICKS
        ytext = [str(v) for v in Y_TICKS]
    xvals = [-20, -10, 0, 10, 20, 30, 40]
    # the right panel's "40" is placed as a separate label so it stays inside the page
    xtext = [str(v) if (v in X_TICKS and not (col == 1 and v == 40)) else "" for v in xvals]

    xkey = "xaxis" if k == 1 else f"xaxis{k}"
    ykey = "yaxis" if k == 1 else f"yaxis{k}"
    layout_axes[xkey] = dict(
        domain=list(X_DOM[col]), anchor=ya, range=[-20, 40],
        tickvals=xvals, ticktext=xtext, showticklabels=(row == 2),
        ticks="", ticklabelstandoff=4,
        tickfont=dict(family=FONT, size=27, color="black"),
        showgrid=True, gridcolor=GRID, griddash="dot", gridwidth=1,
        zeroline=False, showline=True, mirror=True, linecolor="black", linewidth=3,
        fixedrange=True)
    layout_axes[ykey] = dict(
        domain=list(Y_DOM[row]), anchor=xa, range=[-40, -10],
        tickvals=yvals, ticktext=ytext, showticklabels=(col == 0),
        ticks="", ticklabelstandoff=6,
        tickfont=dict(family=FONT, size=27, color="black"),
        showgrid=True, gridcolor=GRID, griddash="dot", gridwidth=1,
        zeroline=False, showline=True, mirror=True, linecolor="black", linewidth=3,
        fixedrange=True)


def px(xp, yp):
    return xp / W, 1 - yp / H


annotations = []


def add_text(text, xp, yp, size, bold=False, italic=False, xanchor="center", angle=0):
    x, y = px(xp, yp)
    t = text
    if bold:
        t = f"<b>{t}</b>"
    if italic:
        t = f"<i>{t}</i>"
    annotations.append(dict(text=t, x=x, y=y, xref="paper", yref="paper", showarrow=False,
                            xanchor=xanchor, yanchor="middle", textangle=angle,
                            font=dict(family=FONT, size=size, color="black")))


add_text("Monkey ‘O’", 208, 19, 30, bold=True)
add_text("Monkey ‘W’", 555, 19, 30, bold=True)
add_text("A", 108, 66, 30, bold=True)
add_text("Gaze / Gaze Task", 411, 66, 30, bold=True)
add_text("B", 104, 394, 30, bold=True)
add_text("Gaze / Reach Task", 412, 394, 30, bold=True)
add_text("C", 106, 742, 30, bold=True)
add_text("Hand / Reach Task", 412, 742, 30, bold=True)
add_text("Vertical visual angle (deg)", 15, 570, 29, angle=-90)
add_text("Horizontal visual angle (deg)", 404, 1146, 29)
add_text("40", 699, 1081, 27, xanchor="right")
add_text("Left", 115, 1110, 24, italic=True)
add_text("Right", 343, 1110, 24, italic=True)
add_text("Left", 442, 1110, 24, italic=True)
add_text("Right", 669, 1110, 24, italic=True)
add_text(LEGEND_LABELS[0], 99, 1186, 25, xanchor="left")
add_text(LEGEND_LABELS[1], 99, 1213, 25, xanchor="left")
add_text(LEGEND_LABELS[2], 382, 1200, 25, xanchor="left")

shapes = []
for (cxp, cyp, col) in [(88, 1188, "black"), (88, 1214, "#22c25a"), (371, 1201, "#1a1aa8")]:
    x0, y0 = px(cxp - 5, cyp + 5)
    x1, y1 = px(cxp + 5, cyp - 5)
    shapes.append(dict(type="circle", xref="paper", yref="paper", x0=x0, y0=y0, x1=x1, y1=y1,
                       fillcolor=col, line=dict(width=0)))

fig.update_layout(
    width=W, height=H, margin=dict(l=0, r=0, t=0, b=0),
    paper_bgcolor="white", plot_bgcolor="white",
    showlegend=False, annotations=annotations, shapes=shapes,
    **layout_axes)

fig.write_html("out.html", include_plotlyjs=True, config={"displayModeBar": False})
